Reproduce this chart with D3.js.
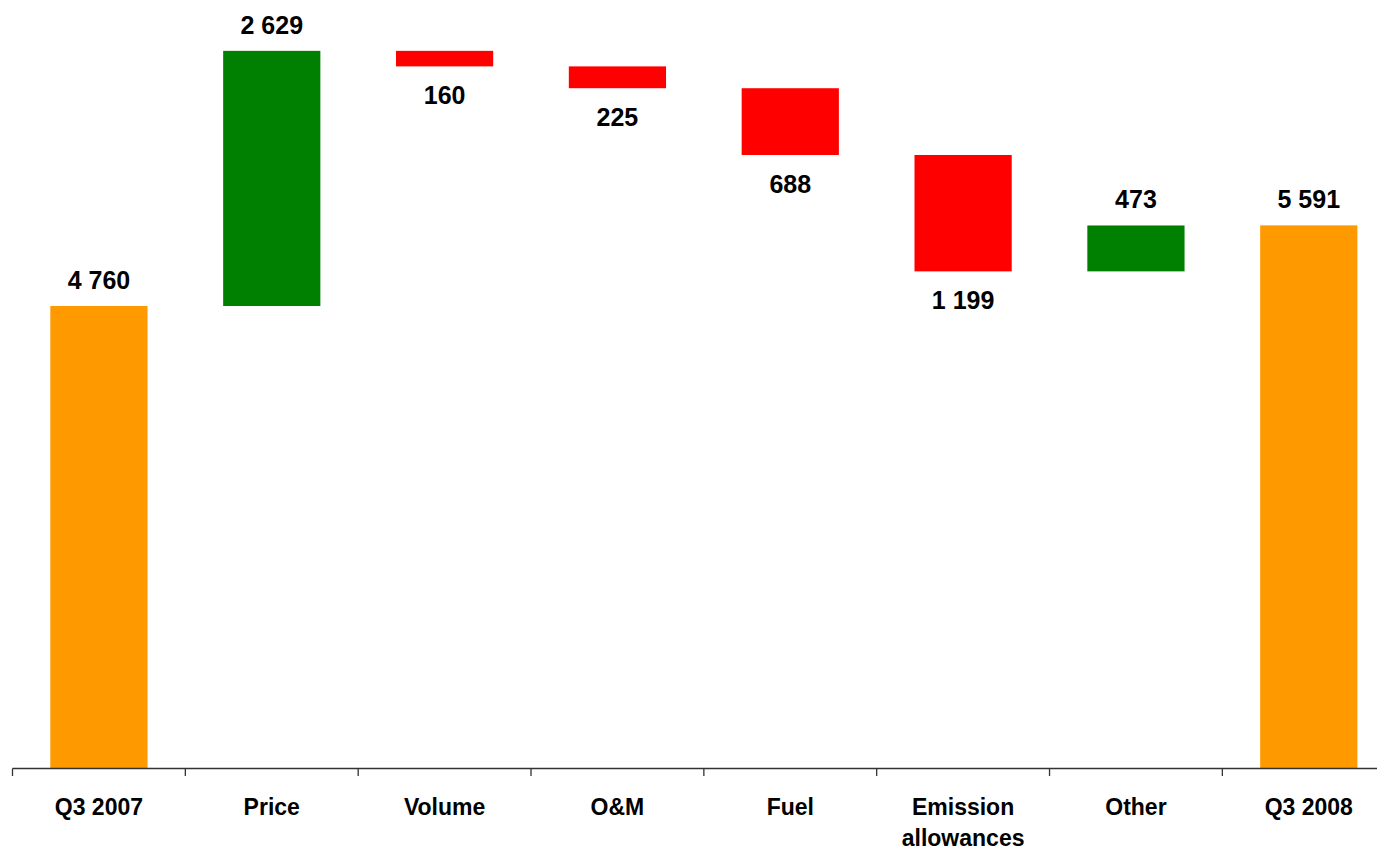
<!DOCTYPE html>
<html>
<head>
<meta charset="utf-8">
<script src="https://cdn.jsdelivr.net/npm/d3@7"></script>
<style>
  html, body { margin: 0; padding: 0; background: #fff; }
  svg { display: block; }
  text { font-family: "Liberation Sans", Arial, sans-serif; font-weight: bold; fill: #000; }
</style>
</head>
<body>
<svg id="chart" width="1377" height="853"></svg>
<script>
// ---- data ----
const categories = ["Q3 2007", "Price", "Volume", "O&M", "Fuel", "Emission allowances", "Other", "Q3 2008"];
const values = [4760, 2629, -160, -225, -688, -1199, 473, 5591];
const kinds = ["total", "delta", "delta", "delta", "delta", "delta", "delta", "total"];
const categoryLines = [["Q3 2007"], ["Price"], ["Volume"], ["O&M"], ["Fuel"], ["Emission", "allowances"], ["Other"], ["Q3 2008"]];

// ---- layout ----
const W = 1377, H = 853;
const baseY = 768;
const svg = d3.select("#chart");

const x = d3.scaleBand().domain(categories).range([12.5, 1395.2]).padding(0);
const y = d3.scaleLinear().domain([0, 7913]).range([baseY, 0]);
const barW = x.bandwidth() * 0.5625;

const colors = { total: "#FF9900", up: "#008000", down: "#FF0000" };
const fmt = v => d3.format(",")(Math.abs(v)).replace(/,/g, " ");

// compute waterfall segments
let running = 0;
const segs = categories.map((c, i) => {
  const v = values[i];
  let lo, hi, color;
  if (kinds[i] === "total") {
    lo = 0; hi = v; running = v; color = colors.total;
  } else {
    const start = running;
    running = start + v;
    lo = Math.min(start, running); hi = Math.max(start, running);
    color = v >= 0 ? colors.up : colors.down;
  }
  return { c, v, lo, hi, color, neg: kinds[i] !== "total" && v < 0 };
});

// bars
svg.append("g").selectAll("rect").data(segs).join("rect")
  .attr("x", d => x(d.c) + (x.bandwidth() - barW) / 2)
  .attr("width", barW)
  .attr("y", d => y(d.hi))
  .attr("height", d => y(d.lo) - y(d.hi))
  .attr("fill", d => d.color);

// value labels
svg.append("g").selectAll("text").data(segs).join("text")
  .attr("x", d => x(d.c) + x.bandwidth() / 2)
  .attr("y", d => d.neg ? y(d.lo) + 38 : y(d.hi) - 17)
  .attr("text-anchor", "middle")
  .attr("font-size", 25)
  .text(d => fmt(d.v));

// axis
const axis = svg.append("g").attr("stroke", "#333").attr("stroke-width", 1.3);
axis.append("line")
  .attr("x1", x.range()[0]).attr("x2", x.range()[1])
  .attr("y1", baseY + 0.5).attr("y2", baseY + 0.5);
const tickXs = categories.map(c => x(c)).concat([x.range()[1]]);
axis.selectAll("line.tick").data(tickXs).join("line")
  .attr("class", "tick")
  .attr("x1", d => d).attr("x2", d => d)
  .attr("y1", baseY + 0.5).attr("y2", baseY + 8);

// category labels
const lab = svg.append("g").selectAll("text").data(categories).join("text")
  .attr("x", c => x(c) + x.bandwidth() / 2)
  .attr("y", 815)
  .attr("text-anchor", "middle")
  .attr("font-size", 23);
lab.each(function(c, i) {
  const t = d3.select(this);
  categoryLines[i].forEach((line, j) => {
    t.append("tspan")
      .attr("x", x(c) + x.bandwidth() / 2)
      .attr("dy", j === 0 ? 0 : 31)
      .text(line);
  });
});
</script>
</body>
</html>
